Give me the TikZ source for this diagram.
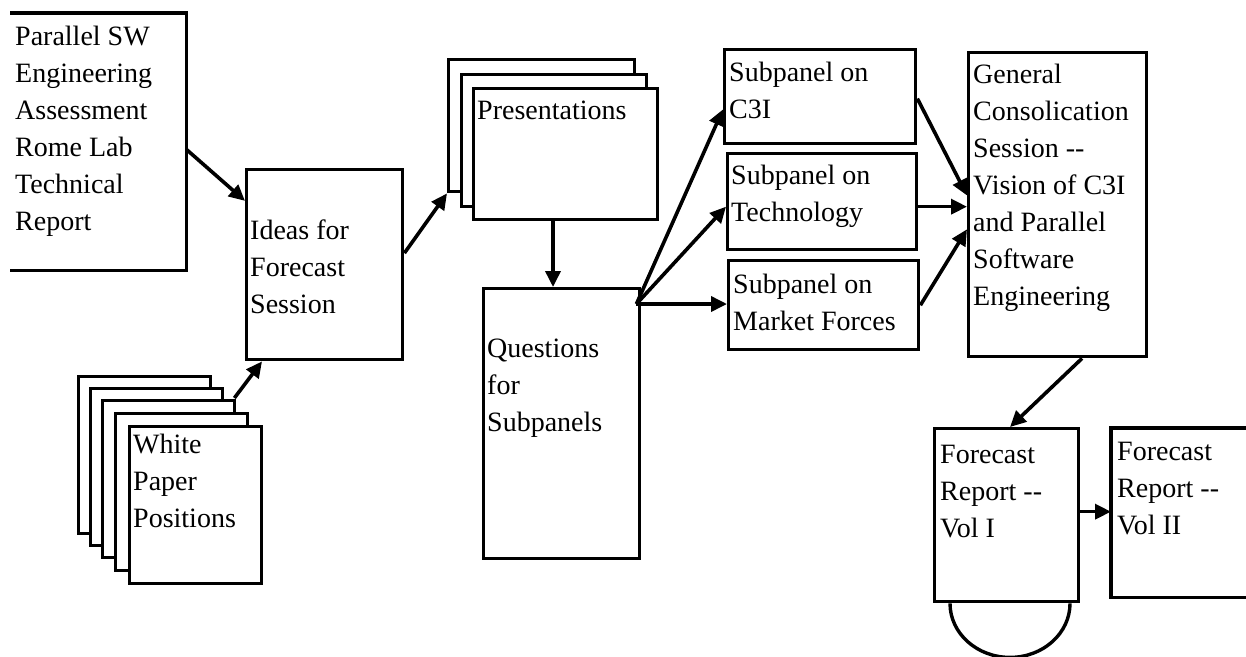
\documentclass[tikz,border=0pt]{standalone}
\usepackage{fontspec}
\setmainfont{Liberation Serif}
\usetikzlibrary{arrows.meta,calc}
\begin{document}
\begin{tikzpicture}[x=1pt,y=-1pt,
  box/.style={draw,line width=3.4pt,rectangle,inner sep=0pt,anchor=north west,fill=white},
  hid/.style={draw=none,rectangle,inner sep=0pt,anchor=north west},
  lbl/.style={anchor=north west,inner sep=0pt,align=left,font=\fontsize{28}{37}\selectfont},
  side/.style={line width=3.4pt,line join=miter},
  conn/.style={line width=3.6pt,-{Triangle[length=16pt,width=15pt]}},
]
\useasboundingbox[fill=white] (0,0) rectangle (1246,656);

% Parallel SW box (left side open)
\node[hid,minimum width=176pt,minimum height=257pt] (A) at (10,13) {};
\draw[side] (A.north west) -- (A.north east) -- (A.south east) -- (A.south west);
\node[lbl] (At) at (15,19.1) {\strut Parallel SW\\Engineering\\Assessment\\Rome Lab\\Technical\\Report};

% Ideas
\node[box,minimum width=156pt,minimum height=190pt] (B) at (245,168) {};
\node[lbl] (Bt) at (250,213.1) {\strut Ideas for\\Forecast\\Session};

% White paper stack
\node[box,minimum width=132pt,minimum height=157pt] (W5) at (77,375) {};
\node[box,minimum width=132pt,minimum height=157pt] (W4) at (89,387) {};
\node[box,minimum width=132pt,minimum height=157pt] (W3) at (101,399) {};
\node[box,minimum width=132pt,minimum height=157pt] (W2) at (114,412) {};
\node[box,minimum width=132pt,minimum height=157pt] (W1) at (128,425) {};
\node[lbl] (Wt) at (133,427.1) {\strut White\\Paper\\Positions};

% Presentations stack
\node[box,minimum width=186pt,minimum height=132pt] (P3) at (447,58) {};
\node[box,minimum width=185pt,minimum height=132pt] (P2) at (460,73) {};
\node[box,minimum width=184pt,minimum height=131pt] (P1) at (472,87) {};
\node[lbl] (Pt) at (477,93.1) {\strut Presentations};

% Questions
\node[box,minimum width=156pt,minimum height=270pt] (Q) at (482,287) {};
\node[lbl] (Qt) at (487,331.1) {\strut Questions\\for\\Subpanels};

% Subpanels
\node[box,minimum width=191pt,minimum height=94pt] (C) at (723,48) {};
\node[lbl] (Ct) at (729,55.1) {\strut Subpanel on\\C3I};
\node[box,minimum width=189pt,minimum height=96pt] (T) at (726,152) {};
\node[lbl] (Tt) at (731,158.1) {\strut Subpanel on\\Technology};
\node[box,minimum width=190pt,minimum height=89pt] (M) at (727,259) {};
\node[lbl] (Mt) at (733,267.1) {\strut Subpanel on\\Market Forces};

% General
\node[box,minimum width=178pt,minimum height=304pt] (G) at (967,51) {};
\node[lbl] (Gt) at (973,57.1) {\strut General\\Consolication\\Session -{}-\\Vision of C3I\\and Parallel\\Software\\Engineering};

% Forecast reports
\node[box,minimum width=144pt,minimum height=173pt] (V1) at (933,427) {};
\node[lbl] (V1t) at (940,437.1) {\strut Forecast\\Report -{}-\\Vol I};
\node[hid,minimum width=136pt,minimum height=169pt] (V2) at (1111,428) {};
\draw[side] (V2.north east) -- (V2.north west) -- (V2.south west) -- (V2.south east);
\node[lbl] (V2t) at (1117,434.1) {\strut Forecast\\Report -{}-\\Vol II};
\draw[side] ($(V1.south west)+(17,0)$) arc[start angle=180,end angle=360,x radius=60pt,y radius=54pt];

% Connectors
\draw[conn] ($(A.north east)!0.53!(A.south east)$) -- ($(B.north west)!0.17!(B.south west)$);
\draw[conn] ($(W3.north east)+(-2,-1)$) -- ($(B.south west)+(17,0)$);
\draw[conn] ($(B.north east)!0.44!(B.south east)$) -- (P3.south west);
\draw[conn] ($(P1.south west)+(81,0)$) -- ($(Q.north west)+(71,0)$);
\coordinate (qo) at ($(Q.north east)+(-5,17)$);
\draw[conn] (qo) -- ($(C.north west)!0.63!(C.south west)$);
\draw[conn] (qo) -- ($(T.north west)!0.55!(T.south west)$);
\draw[conn] (qo) -- (qo -| M.west);
\draw[conn] ($(C.north east)!0.52!(C.south east)$) -- ($(G.north west)!0.47!(G.south west)$);
\coordinate (to) at ($(T.north east)!0.55!(T.south east)$);
\draw[conn] (to) -- (to -| G.west);
\draw[conn] ($(M.north east)!0.5!(M.south east)$) -- ($(G.north west)!0.58!(G.south west)$);
\draw[conn] ($(G.south west)+(115,0)$) -- ($(V1.north west)+(77,0)$);
\coordinate (vo) at ($(V1.north east)!0.48!(V1.south east)$);
\draw[conn] (vo) -- (vo -| V2.west);
\end{tikzpicture}
\end{document}
